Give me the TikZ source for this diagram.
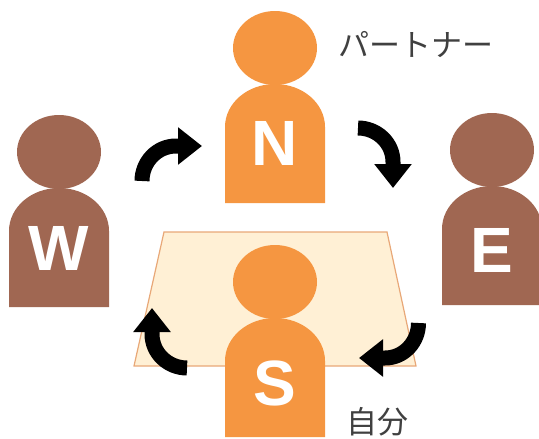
\documentclass[tikz,border=0pt]{standalone}
\usepackage{fontspec}
\setsansfont{Liberation Sans}
\newfontfamily\jpfont{Noto Sans CJK JP}
\usetikzlibrary{arrows.meta,shapes.geometric}
\definecolor{southnorth}{RGB}{245,150,65}
\definecolor{westeast}{RGB}{160,103,82}
\definecolor{tablefill}{RGB}{255,240,213}
\definecolor{tableedge}{RGB}{232,168,120}
\definecolor{labelgray}{RGB}{64,64,64}

\begin{document}
\begin{tikzpicture}[x=1pt,y=-1pt,
    head/.style={ellipse,inner sep=0pt,minimum width=84pt,minimum height=74pt},
    seat/.style={font=\sffamily\bfseries\fontsize{64}{64}\selectfont,text=white,inner sep=0pt},
    turn/.style={line width=15pt,-{Triangle[length=24pt,width=36pt]}},
    caption/.style={font=\jpfont\fontsize{31}{31}\selectfont,text=labelgray,inner sep=0pt}]
    \useasboundingbox (0,0) rectangle (539,439);
    %table
    \draw [tableedge,fill=tablefill,line width=1.2pt] (164,232) -- (387,232) -- (416,366) -- (134,366) -- cycle;
    %players
    \foreach \pname/\px/\py/\pcol/\ltry in {N/275/203/southnorth/143,W/59/307/westeast/248,E/492/305/westeast/250,S/275/437/southnorth/383}{
      \fill [\pcol] (\px-50,\py) -- (\px-50,\py-76) arc [start angle=180,end angle=0,x radius=50pt,y radius=43pt] -- (\px+50,\py) -- cycle;
      \node [head,fill=\pcol] (head\pname) at (\px,\py-155) {};
      \node [seat] (seat\pname) at (\px,\ltry) {\pname};
    }
    %turns
    \coordinate (nwfrom) at (142,181);
    \coordinate (nwbend) at (176,146);
    \coordinate (nwto) at (202,146);
    \coordinate (nefrom) at (358,128);
    \coordinate (nebend) at (393,162);
    \coordinate (neto) at (393,188);
    \coordinate (sefrom) at (418.5,323);
    \coordinate (sebend) at (385,358);
    \coordinate (seto) at (359,358);
    \coordinate (swfrom) at (187,368);
    \coordinate (swbend) at (152,334);
    \coordinate (swto) at (152,308);
    \draw [turn] (nwfrom) to [out=90,in=180] (nwbend) -- (nwto);
    \draw [turn] (nefrom) to [out=0,in=90] (nebend) -- (neto);
    \draw [turn] (sefrom) to [out=-90,in=0] (sebend) -- (seto);
    \draw [turn] (swfrom) to [out=180,in=-90] (swbend) -- (swto);
    %names
    \node [caption,anchor=west] (partner) at (338,45) {パートナー};
    \node [caption,anchor=west] (self) at (346,422) {自分};
\end{tikzpicture}
\end{document}
